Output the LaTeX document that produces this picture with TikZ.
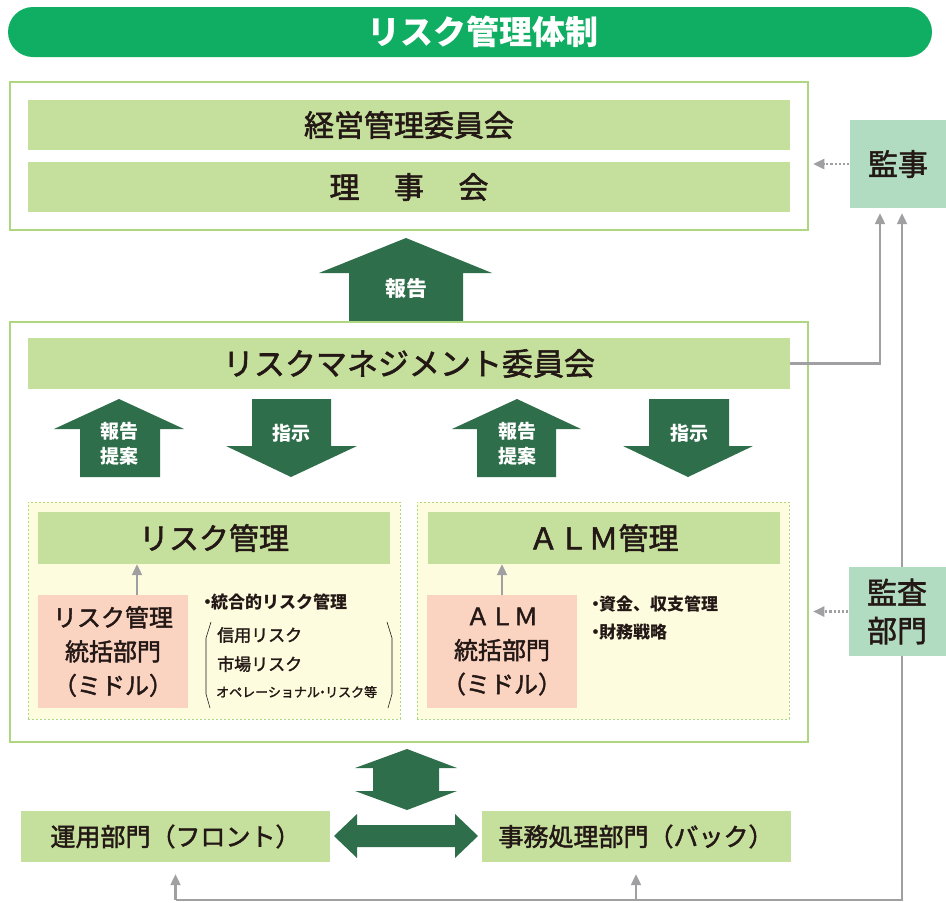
\documentclass[tikz,border=0pt]{standalone}
\usepackage{fontspec}
\setmainfont{Noto Sans CJK JP}
\newfontfamily\heavyfont[FakeBold=1.8]{Noto Sans CJK JP}
\usetikzlibrary{arrows.meta, calc}

\definecolor{titlegreen}{HTML}{10AE62}
\definecolor{framegreen}{HTML}{AED77F}
\definecolor{bargreen}{HTML}{C5DF9D}
\definecolor{arrowgreen}{HTML}{2F6E4A}
\definecolor{mint}{HTML}{B2DCC1}
\definecolor{pink}{HTML}{FBD3C1}
\definecolor{cream}{HTML}{FEFCDF}
\definecolor{linegray}{HTML}{A0A0A2}
\definecolor{ink}{HTML}{231815}

\tikzset{
	grayarrow/.style = {draw=linegray, line width=2.2pt, -{Triangle[width=10pt, length=11pt]}},
	dotarrow/.style = {grayarrow, dotted, line width=2.4pt},
	blockarrow/.style = {fill=arrowgreen},
}

\begin{document}
\begin{tikzpicture}[x = 1pt, y = -1pt,
		frame/.style = {draw=framegreen, line width=2.5pt, inner sep=0pt, minimum width=798pt},
		bar/.style = {fill=bargreen, inner sep=0pt, minimum width=762pt, minimum height=50pt, text=ink, font=\heavyfont\fontsize{30}{36}\selectfont},
		subbox/.style = {draw=framegreen, fill=cream, line width=1pt, dash pattern=on 2pt off 2pt, inner sep=0pt, minimum width=372pt, minimum height=217pt},
		subbar/.style = {fill=bargreen, inner sep=0pt, minimum width=352pt, minimum height=52pt, text=ink, font=\heavyfont\fontsize{30}{36}\selectfont},
		middle/.style = {fill=pink, inner sep=0pt, minimum width=150pt, minimum height=113pt, text=ink, align=center, font=\heavyfont\fontsize{24}{34}\selectfont},
		audit/.style = {fill=mint, inner sep=0pt, minimum width=97pt, minimum height=88pt, text=ink, align=center, font=\heavyfont\fontsize{30}{38}\selectfont},
		unit/.style = {fill=bargreen, inner sep=0pt, minimum width=309pt, minimum height=51pt, text=ink, font=\heavyfont\fontsize{25}{30}\selectfont},
		arrowtext/.style = {text=white, align=center, font=\bfseries\fontsize{19}{25}\selectfont},
		note/.style = {anchor=west, inner sep=0pt, text=ink, font=\bfseries\fontsize{17}{20}\selectfont},
		item/.style = {anchor=west, inner sep=0pt, text=ink, font=\heavyfont\fontsize{17}{20}\selectfont},
	]
		\useasboundingbox (0,0) rectangle (946,903);

		% title
		\node [fill=titlegreen, rounded corners=25pt, minimum width=924pt, minimum height=50pt, inner sep=0pt] (title) at (470,32) {};
		\node [text=white, font=\bfseries\fontsize{33}{36}\selectfont] (titletext) at ([xshift=13pt]title.center) {リスク管理体制};

		% board
		\node [frame, minimum height=148pt] (top) at (409,156) {};
		\node [bar] (keiei) at (409,125) {経営管理委員会};
		\node [bar] (riji) at (409,187) {理\hspace{1.15em}事\hspace{1.15em}会};
		\node [audit] (kanji) at (898,164) {監事};
		\draw [dotarrow] (kanji.west) -- ([xshift=4pt]kanji.west -| top.east);

		% report to the board
		\fill [blockarrow] (349,322) -- (349,273) -- (319,273) -- (406,238) -- (492,273) -- (463,273) -- (463,322) -- cycle;
		\node [arrowtext, font=\bfseries\fontsize{21}{25}\selectfont] (report) at (406,289) {報告};

		% risk management committee
		\node [frame, minimum height=420pt] (mid) at (409,532) {};
		\node [bar, minimum height=51pt, font=\heavyfont\fontsize{31}{36}\selectfont] (rm) at (409,363.5) {リスクマネジメント委員会};

		\fill [blockarrow] (80,477) -- (80,429) -- (54,429) -- (119,399) -- (184,429) -- (160,429) -- (160,477) -- cycle;
		\node [arrowtext] (upleft) at (119,444) {報告\\提案};
		\fill [blockarrow] (252,399) -- (331,399) -- (331,446) -- (357,446) -- (291,477) -- (226,446) -- (252,446) -- cycle;
		\node [arrowtext] (downleft) at (291,433) {指示};
		\fill [blockarrow] (477,477) -- (477,429) -- (452,429) -- (517,399) -- (581,429) -- (556,429) -- (556,477) -- cycle;
		\node [arrowtext] (upright) at (517,444) {報告\\提案};
		\fill [blockarrow] (649,399) -- (729,399) -- (729,446) -- (753,446) -- (688,477) -- (623,446) -- (649,446) -- cycle;
		\node [arrowtext] (downright) at (689,433) {指示};

		% risk management
		\node [subbox] (riskarea) at (214,610.5) {};
		\node [subbar] (risk) at (214,538) {リスク管理};
		\node [middle] (riskmid) at (113,651.5) {リスク管理\\統括部門\\（ミドル）};
		\draw [grayarrow] ([xshift=24pt]riskmid.north) -- ([xshift=24pt]riskmid.north |- risk.south);
		\node [note] (integrated) at (199,602) {・\hspace{-0.3em}統合的リスク管理};
		\node [item] (credit) at (217,635) {信用リスク};
		\node [item] (market) at (217,664) {市場リスク};
		\node [item, font=\heavyfont\fontsize{13}{16}\selectfont] (operation) at (216,692) {オペレーショナル\hspace{-0.3em}・\hspace{-0.3em}リスク等};
		\draw [ink, line width=0.6pt] (211,622) -- (206,638) -- (206,694) -- (210,708);
		\draw [ink, line width=0.6pt] (387,622) -- (392,638) -- (392,694) -- (388,708);

		% ALM
		\node [subbox] (almarea) at (603,610.5) {};
		\node [subbar] (alm) at (603.5,538) {ＡＬＭ管理};
		\node [middle] (almmid) at (502,651.5) {ＡＬＭ\\統括部門\\（ミドル）};
		\draw [grayarrow] (almmid.north) -- (almmid.north |- alm.south);
		\node [note] (funds) at (587,604) {・\hspace{-0.3em}資金、収支管理};
		\node [note] (strategy) at (587,632) {・\hspace{-0.3em}財務戦略};

		% front and back
		\fill [blockarrow] (407,749) -- (457,768) -- (439,768) -- (439,791) -- (457,791) -- (407,810) -- (355,791) -- (373,791) -- (373,768) -- (355,768) -- cycle;
		\node [unit] (front) at (175.5,836.5) {運用部門（フロント）};
		\node [unit] (back) at (636,836.5) {事務処理部門（バック）};
		\fill [blockarrow] (334,836) -- (357,814) -- (357,825) -- (455,825) -- (455,814) -- (478,836) -- (455,858) -- (455,847) -- (357,847) -- (357,858) -- cycle;

		% audit lines
		\coordinate (bend) at (902,900);
		\draw [grayarrow, shorten >=5pt] (rm.east) -| ([xshift=-18pt]kanji.south);
		\draw [grayarrow, shorten >=5pt] (front.south |- bend) -- (bend) -- ([xshift=4pt]kanji.south);
		\draw [grayarrow, shorten >=12pt] (front.south |- bend) -- (front.south);
		\draw [grayarrow, shorten >=12pt] (back.south |- bend) -- (back.south);

		\node [audit, minimum height=89pt] (kansa) at (897,611.5) {監査\\部門};
		\draw [dotarrow] (kansa.west) -- ([xshift=4pt]kansa.west -| mid.east);
	\end{tikzpicture}
\end{document}
